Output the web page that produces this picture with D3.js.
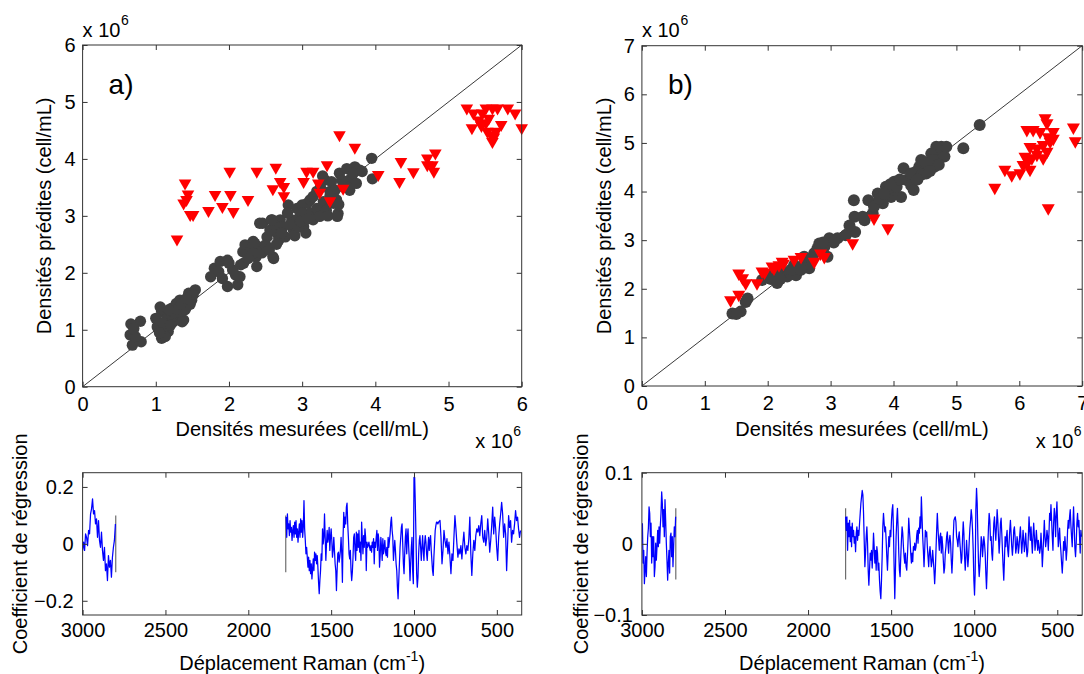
<!DOCTYPE html>
<html><head><meta charset="utf-8">
<script src="https://cdn.jsdelivr.net/npm/d3@7"></script>
<style>
html,body{margin:0;padding:0;background:#fff;overflow:hidden}
svg{display:block}
</style></head><body>
<svg id="chart" width="1084" height="674"></svg>
<script>
// ---------- DATA (densities in units of 10^6 cell/mL) ----------
const ticksA = [0,1,2,3,4,5,6];
const ticksB = [0,1,2,3,4,5,6,7];
const shiftTicks = [3000,2500,2000,1500,1000,500];
const coefTicksA = [-0.2,0,0.2];
const coefTicksB = [-0.1,0,0.1];

// panel a) calibration (dark circles): [measured, predicted]
const calA = [[0.66,1.10],[0.79,1.15],[0.65,0.91],[0.68,0.73],[0.80,0.79],[0.72,0.88],[0.70,1.02],
[1.08,0.85],[1.02,1.05],[1.08,1.32],[1.15,1.20],[1.22,1.38],[1.28,1.23],[1.33,1.52],[1.38,1.17],[1.42,1.40],[1.49,1.52],[1.54,1.70],[1.45,1.64],[1.17,0.97],[1.24,1.14],[1.33,1.29],[1.00,1.20],[1.11,1.05],[1.40,1.35],[1.06,1.40],[1.19,1.26],[1.51,1.61],[1.28,1.46],[1.13,0.88],[1.36,1.14],[1.10,1.12],[1.20,1.08],[1.25,1.30],[1.30,1.36],[1.35,1.45],[1.47,1.45],[1.18,1.35],[1.05,0.95],[1.42,1.55],
[1.75,1.93],[1.80,2.08],[1.88,2.20],[1.98,2.22],[1.91,1.90],[1.98,1.76],[2.12,1.79],[2.09,1.96],[2.16,2.14],[2.05,2.05],[1.86,2.02],[2.00,2.17],[2.15,1.93],[2.20,2.17],
[2.19,2.37],[2.22,2.49],[2.29,2.37],[2.33,2.55],[2.37,2.28],[2.40,2.46],[2.35,2.52],[2.38,2.11],[2.33,2.34],[2.26,2.25],[2.45,2.35],
[2.46,2.87],[2.52,2.63],[2.58,2.93],[2.60,2.28],[2.61,2.25],[2.66,2.69],[2.70,2.93],[2.74,2.81],[2.50,2.49],[2.68,2.57],[2.77,2.63],[2.56,2.75],[2.62,2.85],[2.55,2.40],[2.65,2.50],[2.72,2.70],[2.42,2.87],[2.59,2.93],
[2.81,3.19],[2.86,2.93],[2.88,2.75],[2.93,3.13],[2.97,2.99],[3.02,2.81],[3.07,3.22],[3.11,3.05],[2.93,2.93],[3.00,3.19],[3.11,3.28],[2.90,2.65],[3.05,2.70],[2.84,2.85],[2.95,2.80],[3.00,3.05],[3.15,2.93],[3.15,3.34],[3.20,3.13],[3.24,2.99],[2.80,3.05],[2.98,2.90],[3.08,2.95],
[3.29,3.25],[3.33,3.10],[3.38,3.43],[3.31,3.63],[3.47,3.28],[3.49,3.04],[3.51,3.75],[3.56,3.51],[3.20,3.43],[3.43,3.22],[3.40,3.60],[3.54,3.63],[3.28,3.70],[3.35,3.00],[3.45,3.45],[3.50,3.20],[3.25,3.50],[3.48,2.99],[3.38,3.35],
[3.61,3.83],[3.67,3.66],[3.72,3.86],[3.79,3.80],[3.65,3.45],[3.74,3.57],[3.60,3.60],[3.70,3.75],[3.82,3.78],[3.62,3.50],
[3.95,4.01],[3.96,3.65]];

// panel a) validation (red triangles)
const valA = [[1.29,2.56],[1.40,3.54],[1.44,3.35],[1.38,3.19],[1.42,3.25],[1.47,2.99],[1.51,2.99],[1.72,3.06],[1.81,3.34],[1.91,3.13],[2.01,3.75],[2.02,3.34],[2.06,3.04],[2.26,3.25],[2.38,3.75],[2.64,3.82],[2.60,3.44],[2.70,3.57],[2.75,3.48],[2.75,3.32],[3.02,3.57],[3.06,3.75],[3.15,3.75],[3.22,3.54],[3.24,3.38],[3.34,3.86],[3.38,3.23],[3.51,4.39],[3.56,3.45],[3.72,4.17],[4.04,3.69],[4.33,3.57],[4.35,3.92],[4.52,3.74],[4.71,3.98],[4.78,3.86],[4.82,4.07],[4.80,3.75],[4.71,3.86],[5.25,4.86],[5.34,4.77],[5.32,4.51],[5.46,4.77],[5.51,4.60],[5.55,4.68],[5.60,4.86],[5.67,4.86],[5.65,4.45],[5.58,4.39],[5.60,4.27],[5.72,4.57],[5.81,4.86],[5.91,4.77],[6.00,4.51],[5.41,4.65],[5.53,4.45],[5.51,4.86],[5.62,4.35],[5.45,4.55]];

// panel b) calibration (dark circles)
const calB = [[1.44,1.49],[1.57,1.53],[1.65,1.73],[1.68,1.80],[1.91,2.18],[2.10,2.32],[2.15,2.12],[2.23,2.35],[2.31,2.25],[2.45,2.28],[2.42,2.49],[2.58,2.52],[2.66,2.42],[2.74,2.73],[2.82,2.93],[2.90,2.86],[2.95,2.66],[2.98,3.04],[3.11,3.04],[3.24,3.10],[3.38,3.48],[3.37,3.82],[3.39,3.17],[3.60,3.82],[3.54,3.41],[3.67,3.55],[3.75,3.96],[3.83,3.76],[3.88,4.10],[3.96,3.89],[4.01,4.20],[4.12,3.89],[4.16,4.48],[4.20,4.24],[4.28,4.13],[4.32,4.03],[4.41,4.51],[4.44,4.65],[4.52,4.37],[4.55,4.58],[4.65,4.51],[4.70,4.78],[4.76,4.92],[4.81,4.72],[4.84,4.92],[5.11,4.89],[5.37,5.37],[4.68,4.92],[4.60,4.78],[4.28,4.37],[4.01,4.03],[3.80,3.93],[3.69,3.69],[3.51,3.48],[2.58,2.66],[2.79,2.83],[2.37,2.39],[1.99,2.25],[2.53,2.39],[2.05,2.20],[2.70,2.60],[3.05,2.95],[3.90,4.00],[4.05,4.10],[4.10,4.25],[4.35,4.40],[4.45,4.35],[4.50,4.60],[4.62,4.65],[3.78,3.85],[3.95,4.15],[4.38,4.25],[4.72,4.55],[4.58,4.42],[3.85,3.95],[1.50,1.48],[2.20,2.20],[2.88,2.95],[3.30,3.30]];

// panel b) validation (red triangles)
const valB = [[1.41,1.73],[1.54,1.84],[1.54,2.28],[1.60,2.18],[1.65,2.08],[1.83,2.08],[1.91,2.32],[2.07,2.42],[2.18,2.45],[2.23,2.52],[2.42,2.56],[2.53,2.62],[2.74,2.52],[2.84,2.69],[2.90,2.62],[3.35,2.90],[3.69,3.41],[3.91,3.21],[5.61,4.04],[5.77,4.41],[6.01,4.34],[6.17,4.41],[6.06,4.51],[6.09,4.68],[6.20,4.65],[6.28,4.72],[6.44,4.78],[6.38,4.65],[6.17,4.88],[6.28,4.85],[6.38,4.92],[6.49,4.99],[6.33,5.19],[6.54,5.19],[6.12,5.23],[6.22,5.23],[6.44,5.37],[6.41,5.47],[6.46,3.62],[6.86,5.28],[6.89,5.00],[6.54,5.05],[6.46,5.08],[5.88,4.30],[6.14,4.58],[2.10,2.38],[2.25,2.48],[1.95,2.30]];

// regression coefficients, panel a)
const shiftA1 = [3000,2994,2988,2982,2976,2970,2964,2958,2952,2946,2940,2934,2928,2922,2916,2910,2904,2898,2892,2886,2880,2874,2868,2862,2856,2850,2844,2838,2832,2826,2820,2814,2808,2802];
const coefA1 = [-0.023,0.006,-0.023,0.035,0.023,-0.006,0.047,0.035,0.105,0.123,0.158,0.105,0.117,0.070,0.088,0.023,0.082,0.012,-0.012,0.041,-0.023,-0.058,-0.012,-0.094,-0.070,-0.129,-0.041,-0.082,-0.058,-0.117,-0.047,-0.012,0.012,0.070];
const shiftA2 = [1772,1768,1764,1760,1756,1752,1748,1744,1740,1736,
1732,1728,1724,1720,1716,1712,1708,1704,1700,1696,
1692,1688,1684,1680,1676,1672,1668,1664,1660,1656,
1652,1648,1644,1640,1636,1632,1628,1624,1620,1616,
1612,1608,1604,1600,1596,1592,1588,1584,1580,1576,
1572,1568,1564,1560,1556,1552,1548,1544,1540,1536,
1532,1528,1524,1520,1516,1512,1508,1504,1500,1496,
1492,1488,1484,1480,1476,1472,1468,1464,1460,1456,
1452,1448,1444,1440,1436,1432,1428,1424,1420,1416,
1412,1408,1404,1400,1396,1392,1388,1384,1380,1376,
1372,1368,1364,1360,1356,1352,1348,1344,1340,1336,
1332,1328,1324,1320,1316,1312,1308,1304,1300,1296,
1292,1288,1284,1280,1276,1272,1268,1264,1260,1256,
1252,1248,1244,1240,1236,1232,1228,1224,1220,1216,
1212,1208,1204,1200,1196,1192,1188,1184,1180,1176,
1172,1168,1164,1160,1156,1152,1148,1144,1140,1136,
1132,1128,1124,1120,1116,1112,1108,1104,1100,1096,
1092,1088,1084,1080,1076,1072,1068,1064,1060,1056,
1052,1048,1044,1040,1036,1032,1028,1024,1020,1016,
1012,1008,1004,1000,996,992,988,984,980,976,
972,968,964,960,956,952,948,944,940,936,
932,928,924,920,916,912,908,904,900,896,
892,888,884,880,876,872,868,864,860,856,
852,
843,837,831,825,819,813,807,801,795,789,
783,777,771,765,759,753,747,741,735,729,
723,717,711,705,699,693,687,681,675,669,
663,657,651,645,639,633,627,621,615,609,
603,597,591,585,579,573,567,561,555,549,
543,537,531,525,519,513,507,501,495,489,
483,477,471,465,459,453,447,441,435,429,
423,417,411,405,399,393,387,381,375,369,
363,357];
const coefA2 = [0.094,0.023,0.105,0.053,0.070,0.029,0.082,0.041,0.058,0.012,
0.047,0.064,0.023,0.076,0.035,0.082,0.023,0.053,0.006,0.041,
0.070,0.023,0.088,0.041,0.082,0.023,0.058,0.152,0.053,0.012,
-0.035,-0.012,-0.047,-0.082,-0.047,-0.094,-0.058,-0.105,-0.070,-0.123,
-0.088,-0.053,-0.094,-0.029,-0.058,-0.035,-0.070,-0.041,-0.082,-0.135,
-0.175,-0.129,-0.094,-0.035,-0.058,0.053,0,0.023,0.105,0.023,
-0.058,0,0.047,0.006,0.023,0.058,-0.023,0.023,0.053,0.012,
-0.047,-0.023,0.023,-0.023,-0.070,-0.094,-0.164,-0.094,-0.035,-0.029,
-0.064,-0.047,-0.023,0.023,-0.035,-0.135,0.023,0.111,0.058,0.094,
0.070,0.129,0.143,0.070,0.023,-0.035,-0.053,-0.023,-0.094,-0.129,
-0.099,-0.047,0.023,0.035,-0.023,-0.058,0.041,-0.023,0.035,-0.012,
0.047,-0.029,0.006,-0.058,0.076,0.018,-0.035,0.029,-0.012,0.053,
0.023,-0.094,0.006,-0.012,-0.006,0.006,-0.012,-0.023,-0.006,-0.029,
0.006,-0.012,0.018,-0.070,0.006,-0.012,0.023,0.047,-0.023,0.035,
0.012,-0.082,-0.041,0.023,-0.012,-0.058,0.018,-0.035,-0.012,0.012,
-0.029,-0.041,-0.012,-0.047,0.023,-0.012,0.012,0.035,0.076,0.094,
0.047,0.023,-0.058,-0.023,0.012,-0.023,-0.070,-0.094,-0.152,-0.193,
-0.129,-0.070,-0.012,0.023,0.058,0.070,0,-0.070,-0.105,-0.035,
0.023,0.053,-0.035,0.023,0.053,-0.012,-0.058,-0.129,-0.070,-0.012,
0.023,-0.094,-0.140,0.234,0.234,0.140,0.023,-0.105,-0.152,-0.117,
-0.035,0.012,0.029,-0.012,-0.058,-0.012,0.029,-0.023,-0.058,0,
0.029,0.006,-0.035,-0.058,-0.012,0.023,-0.023,0.012,0.029,-0.023,
-0.058,-0.094,-0.111,-0.047,0,0.047,0.064,0.076,0.076,0.070,
0.076,
0.082,0.023,-0.070,-0.023,0.047,0.012,-0.012,0.018,-0.035,0.006,
-0.047,-0.105,-0.035,-0.058,0.023,0.099,0.053,0,-0.047,-0.018,
-0.035,-0.006,-0.053,0,0.041,-0.012,-0.035,-0.006,-0.023,0.018,
0.094,-0.035,-0.111,-0.035,0.012,-0.023,0.029,0.053,0.041,0.064,
0.029,0.070,0.099,0.023,0.006,0.047,-0.006,0.023,0.088,0.035,
-0.029,0.012,0.064,0.129,0.035,0.094,0.053,-0.012,-0.058,0.023,
0.070,0.105,0.146,0.105,0.023,0.070,0.035,-0.094,0,0.099,
0.058,0.082,0.006,0.047,0.035,0.070,0.117,0.082,0.094,0.053,
0.023,0.047];
const gapShiftsA = [2800, 1774];   // ends of the spectral windows
const gapCoefA = [-0.1, 0.1];

// regression coefficients, panel b)
const shiftB1 = [2997,2993,2989,2985,2981,2977,2973,2969,2965,2961,
2957,2953,2949,2945,2941,2937,2933,2929,2925,2921,
2917,2913,2909,2905,2901,2897,2893,2889,2885,2881,
2877,2873,2869,2865,2861,2857,2853,2849,2845,2841,
2837,2833,2829,2825,2821,2817,2813,2809,2805,2801,2797];
const coefB1 = [0.029,-0.027,-0.009,-0.056,-0.037,-0.018,-0.046,-0.013,0.010,0.022,
0.052,0.043,0.010,0.029,-0.027,0.010,-0.018,0.010,-0.046,-0.032,
0.001,-0.023,-0.004,0.019,-0.004,0.024,0.001,0.026,0.043,0.073,
0.057,0.024,0.048,0.010,0.062,0.033,0.001,-0.023,-0.051,-0.027,
-0.009,-0.041,0.010,0.015,-0.018,0.010,-0.032,-0.004,0.024,0.010,0.038];
const shiftB2 = [1774,1770,1766,1762,1758,1754,1750,1746,1742,1738,
1734,1730,1726,1722,1718,1714,1710,1706,1702,1698,
1694,1690,1686,1682,1678,1674,1670,1666,1662,1658,
1654,1650,1646,1642,1638,1634,1630,1626,1622,1618,
1614,1610,1606,1602,1598,1594,1590,1586,1582,1578,
1574,1570,1566,1562,1558,1554,1550,1546,1542,1538,
1534,1530,1526,1522,1518,1514,1510,1506,1502,1498,
1494,1490,1486,1482,1478,1474,1470,1466,1462,1458,
1454,1450,1446,1442,1438,1434,1430,1426,1422,1418,
1414,1410,1406,1402,1398,1394,1390,1386,1382,1378,
1374,1370,1366,1362,1358,1354,1350,1346,1342,1338,
1334,1330,1326,1322,1318,1314,1310,1306,1302,1298,
1294,1290,1286,1282,1278,1274,1270,1266,1262,1258,
1254,1250,1246,1242,1238,1234,1230,1226,1222,1218,
1214,1210,1206,1202,1198,1194,1190,1186,1182,1178,
1174,1170,1166,1162,1158,1154,1150,1146,1142,1138,
1134,1130,1126,1122,1118,1114,1110,1106,1102,1098,
1094,1090,1086,1082,1078,1074,1070,1066,1062,1058,
1054,1050,1046,1042,1038,1034,1030,1026,1022,1018,
1014,1010,1006,1002,998,994,990,986,982,978,
974,970,966,962,958,954,950,946,942,938,
934,930,926,922,918,914,910,906,902,898,
894,890,886,882,878,874,870,866,862,858,
854,850,846,842,838,834,830,826,822,818,
814,810,806,802,798,794,790,786,782,778,
774,770,766,762,758,754,750,746,742,738,
734,730,726,722,718,714,710,706,702,698,
694,690,686,682,678,674,670,666,662,658,
654,650,646,642,638,634,630,626,622,618,
614,610,606,602,598,594,590,586,582,578,
574,570,566,562,558,554,550,546,542,538,
534,530,526,522,518,514,510,506,502,498,
494,490,486,482,478,474,470,466,462,458,
454,450,446,442,438,434,430,426,422,418,
414,410,406,402,398,394,390,386,382,378,
374,370,366,362,358,354];
const coefB2 = [0.038,0.019,0.038,-0.009,0.029,0.010,0.033,0.003,0.024,-0.004,
0.029,0.010,0.019,0.001,0.010,-0.011,0.015,0.024,0.005,0.019,
0.012,0.029,0.043,0.057,0.066,0.075,0.069,0.043,0.005,-0.032,
-0.013,0.010,0.024,0.001,-0.037,-0.058,-0.037,-0.013,-0.023,-0.009,
-0.034,-0.013,0.015,-0.004,-0.027,-0.009,-0.037,-0.004,-0.013,-0.037,
-0.027,-0.051,-0.067,-0.077,-0.051,-0.018,0.024,0.043,0.029,0.017,
0.024,0.005,-0.018,-0.037,-0.013,0.010,-0.004,0.019,0.010,0.033,
0.048,0.055,0.019,-0.032,-0.077,-0.037,0.010,0.033,0.050,0.024,
-0.013,-0.037,-0.046,-0.018,0.005,0.024,0.015,-0.004,-0.018,-0.027,
-0.013,-0.032,-0.037,-0.018,0.005,0.036,0.019,0.005,-0.013,-0.027,
-0.013,-0.025,-0.004,-0.009,0.001,-0.009,-0.004,0.012,0.019,0.001,
0.022,0.015,0.038,0.022,0.066,0.038,0.010,-0.009,-0.032,-0.009,
0.019,0.010,0.017,-0.004,-0.018,-0.032,-0.013,-0.004,-0.018,-0.032,
-0.025,-0.009,-0.023,-0.037,-0.056,-0.037,-0.009,0.019,0.043,0.022,
0.005,-0.009,0.010,0.015,-0.013,0.010,-0.002,-0.023,-0.041,-0.034,
-0.013,-0.004,0.010,0.017,0.001,-0.013,0.005,0.012,0.001,-0.023,
-0.041,-0.020,0.010,0.033,0.036,0.038,0.031,0.010,0.005,-0.004,
0.010,0.017,0.001,-0.011,-0.027,-0.020,0.010,0.031,0.015,-0.018,
-0.037,-0.018,0.005,-0.013,-0.032,-0.018,0.003,0.022,0.033,0.048,
0.038,0.019,-0.009,-0.051,-0.072,-0.041,0.048,0.078,0.057,0.010,
-0.027,-0.046,-0.032,-0.013,0.010,0.005,-0.018,-0.004,0.010,0.001,
-0.013,-0.041,-0.063,-0.037,-0.004,0.024,0.043,0.033,0.005,0.010,
-0.013,-0.023,0.001,0.029,0.038,0.019,0.005,0.024,0.048,0.033,
0.010,-0.013,0.003,0.029,0.036,0.015,-0.009,-0.032,-0.051,-0.023,
0.010,-0.004,0.010,0.019,-0.009,-0.018,0.001,0.019,0.033,0.015,
-0.004,-0.016,-0.002,0.019,0.024,0.010,-0.013,-0.006,0.010,0.003,
-0.013,-0.004,0.012,0.024,0.005,-0.013,0.001,0.019,0.005,-0.011,
0.001,0.015,-0.004,-0.018,-0.011,0.012,0.038,0.019,0.005,0.024,
0.003,-0.013,0.010,0.029,0.012,-0.009,0.001,0.019,0.005,-0.009,
0.005,-0.004,-0.013,-0.006,0.015,-0.004,-0.032,-0.013,0.010,0.033,
0.010,-0.004,0.005,0.019,0.010,-0.009,0.015,0.043,0.033,0.055,
0.033,0.010,-0.009,0.029,0.050,0.038,0.010,0.043,0.059,0.029,
-0.004,0.010,0.022,0.001,-0.011,-0.027,-0.041,-0.023,0.003,-0.009,
0.010,-0.004,-0.023,-0.009,0.019,0.033,0.022,0.038,0.048,0.026,
0.010,-0.004,0.026,0.052,0.024,-0.006,-0.018,0.001,0.029,0.043,
0.024,0.033,0.010,-0.013,0.019,0.010];
const gapShiftsB = [2796, 1774];
const gapCoefB = [-0.05, 0.05];

// ---------- DRAWING ----------
const FONT = '"Liberation Sans", Arial, Helvetica, sans-serif';
const svg = d3.select("#chart");
svg.append("rect").attr("width",1084).attr("height",674).attr("fill","#fff");
const AX = "#333";
const INK = "#000";

function styleAxis(g, withText) {
  g.select(".domain").remove();
  g.selectAll(".tick line").attr("stroke", AX).attr("stroke-width", 1);
  g.selectAll(".tick text").attr("font-size", 20).attr("font-family", FONT).attr("fill", INK);
  if (!withText) g.selectAll(".tick text").remove();
}

function frame(x, y, xt, yt, xPad, yPad) {
  const [l, r] = x.range(), [b, t] = y.range();
  const ax = svg.append("g");
  const gb = ax.append("g").attr("transform", `translate(0,${b})`)
    .call(d3.axisBottom(x).tickValues(xt).tickSizeInner(-5).tickSizeOuter(0).tickPadding(xPad).tickFormat(d3.format("")));
  styleAxis(gb, true);
  const gt = ax.append("g").attr("transform", `translate(0,${t})`)
    .call(d3.axisTop(x).tickValues(xt).tickSizeInner(-5).tickSizeOuter(0));
  styleAxis(gt, false);
  const gl = ax.append("g").attr("transform", `translate(${l},0)`)
    .call(d3.axisLeft(y).tickValues(yt).tickSizeInner(-5).tickSizeOuter(0).tickPadding(yPad).tickFormat(d3.format("")));
  styleAxis(gl, true);
  const gr = ax.append("g").attr("transform", `translate(${r},0)`)
    .call(d3.axisRight(y).tickValues(yt).tickSizeInner(-5).tickSizeOuter(0));
  styleAxis(gr, false);
  ax.append("rect").attr("x", l).attr("y", t).attr("width", r - l).attr("height", b - t)
    .attr("fill", "none").attr("stroke", AX).attr("stroke-width", 1);
}

function txt(x, y, s, size, anchor, rot) {
  const t = svg.append("text").attr("font-family", FONT).attr("font-size", size)
    .attr("fill", INK).attr("text-anchor", anchor || "start").text(s);
  if (rot) t.attr("transform", `translate(${x},${y}) rotate(${rot})`);
  else t.attr("x", x).attr("y", y);
  return t;
}

function scatterPanel(o) {
  const x = d3.scaleLinear().domain([0, o.max]).range([o.left, o.right]);
  const y = d3.scaleLinear().domain([0, o.max]).range([o.bottom, o.top]);
  const g = svg.append("g");
  g.append("line").attr("x1", x(0)).attr("y1", y(0)).attr("x2", x(o.max)).attr("y2", y(o.max))
    .attr("stroke", "#222").attr("stroke-width", 0.9);
  g.selectAll("circle").data(o.cal).join("circle")
    .attr("cx", d => x(d[0])).attr("cy", d => y(d[1])).attr("r", o.r).attr("fill", "#404040");
  const w = o.tw, h = o.th;
  g.selectAll("path.tri").data(o.val).join("path").attr("class", "tri")
    .attr("d", `M${-w/2},${-h/2}L${w/2},${-h/2}L0,${h/2}Z`)
    .attr("transform", d => `translate(${x(d[0])},${y(d[1])})`).attr("fill", "#ff0000");
  frame(x, y, o.ticks, o.ticks, 10, 7);
  // labels
  txt(o.left, 36.5, "x 10", 20);
  txt(o.left + 38.5, 25, "6", 14);
  txt(o.yLabX, (o.top + o.bottom) / 2, "Densités prédites (cell/mL)", 20, "middle", -90);
  txt((o.left + o.right) / 2, 436, "Densités mesurées (cell/mL)", 20, "middle");
  txt(o.right - 46.5, 448, "x 10", 20);
  txt(o.right - 8.5, 436, "6", 14);
  txt(o.left + 26, 94, o.tag, 28);
}

function spectrumPanel(o) {
  const x = d3.scaleLinear().domain([3000, 350]).range([o.left, o.right]);
  const y = d3.scaleLinear().domain([-o.lim, o.lim]).range([o.bottom, o.top]);
  const id = "clip" + o.tag;
  svg.append("clipPath").attr("id", id).append("rect")
    .attr("x", o.left).attr("y", o.top).attr("width", o.right - o.left).attr("height", o.bottom - o.top);
  const g = svg.append("g").attr("clip-path", `url(#${id})`);
  g.selectAll("line.gap").data(o.gaps).join("line").attr("class", "gap")
    .attr("x1", d => x(d)).attr("x2", d => x(d))
    .attr("y1", y(o.gapCoef[0])).attr("y2", y(o.gapCoef[1]))
    .attr("stroke", "#6e6e6e").attr("stroke-width", 1.2);
  const line = d3.line().x(d => x(d[0])).y(d => y(d[1]));
  o.segments.forEach(([s, c]) => {
    g.append("path").datum(d3.zip(s, c)).attr("d", line)
      .attr("fill", "none").attr("stroke", "#0000ff").attr("stroke-width", 1.25)
      .attr("stroke-linejoin", "round");
  });
  frame(x, y, shiftTicks, o.yt, 8, 9);
  txt(o.yLabX, (o.top + o.bottom) / 2, "Coefficient de régression", 20, "middle", -90);
  const t = txt((o.left + o.right) / 2, 670, "Déplacement Raman (cm", 20, "middle");
  t.append("tspan").attr("dy", -9).attr("font-size", 14).text("-1");
  t.append("tspan").attr("dy", 9).attr("font-size", 20).text(")");
}

scatterPanel({left: 82.6, right: 521.7, top: 45, bottom: 386.7, max: 6, ticks: ticksA,
  cal: calA, val: valA, r: 5.7, tw: 12.6, th: 11, yLabX: 51, tag: "a)"});
scatterPanel({left: 641.9, right: 1082.2, top: 45.7, bottom: 386, max: 7, ticks: ticksB,
  cal: calB, val: valB, r: 6, tw: 13, th: 11.5, yLabX: 611, tag: "b)"});

spectrumPanel({left: 82.6, right: 521.7, top: 472.7, bottom: 615, lim: 0.25, yt: coefTicksA,
  segments: [[shiftA1, coefA1], [shiftA2, coefA2]], gaps: gapShiftsA, gapCoef: gapCoefA,
  yLabX: 27, tag: "A"});
spectrumPanel({left: 641.9, right: 1082.2, top: 472.7, bottom: 615, lim: 0.1, yt: coefTicksB,
  segments: [[shiftB1, coefB1], [shiftB2, coefB2]], gaps: gapShiftsB, gapCoef: gapCoefB,
  yLabX: 588, tag: "B"});
</script>
</body></html>
